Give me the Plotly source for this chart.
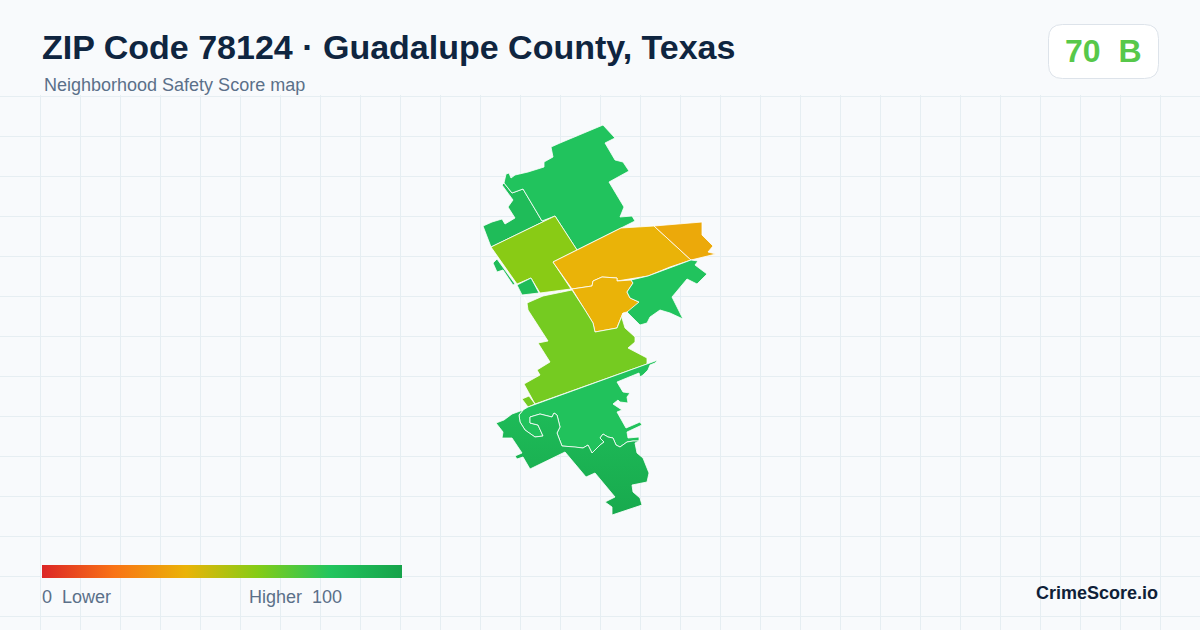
import plotly.graph_objects as go

title = "ZIP Code 78124 · Guadalupe County, Texas"
subtitle = "Neighborhood Safety Score map"
score_value = 70
score_grade = "B"

# scores per area
area_names = ["A", "B", "C", "D", "E", "F", "G", "H", "H2", "I", "K", "S1", "S2"]
area_scores = [85, 81, 59, 40, 37, 40, 81, 63, 63, 82, 92, 85, 85]
# K gets darker towards the south
k_shade_scores = [86, 96]

# area outlines on the map
a_x = [502, 504, 512, 523, 542, 555, 491, 483, 492, 502, 505, 515, 508, 513]
a_y = [185, 183, 193, 189, 221, 216, 247, 226, 222, 219, 224, 218, 207, 200]
b_x = [504, 506, 509, 511, 515, 528, 544, 544, 553, 551, 560, 603, 615, 605, 615, 623, 629, 609, 624, 620, 632, 635, 627, 621, 577, 555, 542, 523, 512]
b_y = [183, 174, 173, 178, 175, 172, 167, 162, 157, 147, 143, 125, 138, 143, 160, 162, 171, 182, 207, 217, 216, 221, 225, 228, 250, 216, 221, 189, 193]
c_x = [491, 555, 577, 553, 571, 540, 531, 517]
c_y = [247, 216, 250, 262, 289, 293, 278, 284]
d_x = [553, 621, 654, 691, 670, 648, 617, 617, 602, 593, 592, 572]
d_y = [262, 228, 226, 260, 267, 276, 281, 278, 277, 281, 286, 289]
e_x = [654, 702, 702, 713, 708, 716, 691]
e_y = [226, 222, 235, 246, 252, 254, 260]
f_x = [572, 592, 593, 602, 617, 617, 631, 633, 627, 630, 639, 633, 627, 623, 618, 617, 595, 593, 585]
f_y = [289, 286, 281, 277, 278, 281, 280, 283, 292, 298, 302, 310, 312, 313, 325, 328, 332, 323, 310]
g_x = [648, 691, 698, 695, 707, 697, 687, 672, 683, 670, 660, 650, 647, 640, 633, 627, 639, 630, 627, 633, 631]
g_y = [276, 260, 261, 265, 274, 284, 279, 297, 319, 313, 310, 317, 323, 325, 318, 312, 302, 298, 292, 283, 280]
h_x = [524, 527, 543, 572, 585, 593, 595, 617, 623, 622, 625, 635, 635, 628, 647, 647, 535, 524, 540, 537, 550, 538, 548, 528, 527]
h_y = [297, 303, 296, 290, 310, 323, 332, 328, 313, 318, 328, 337, 342, 348, 358, 364, 404, 384, 375, 370, 362, 343, 341, 310, 303]
h2_x = [522, 529, 535, 528]
h2_y = [399, 396, 404, 407]
i_x = [658, 655, 650, 648, 643, 640, 639, 617, 623, 630, 627, 628, 620, 618, 613, 622, 617, 626, 640, 642, 627, 628, 639, 639, 633, 627, 620, 616, 613, 608, 603, 600, 604, 600, 592, 588, 583, 575, 562, 557, 560, 557, 554, 552, 540, 530, 530, 538, 543, 535, 525, 520, 519, 523, 528]
i_y = [360, 363, 365, 370, 375, 377, 373, 382, 392, 393, 397, 403, 402, 400, 404, 410, 412, 428, 422, 425, 432, 438, 437, 441, 441, 442, 447, 445, 438, 437, 434, 438, 442, 445, 453, 445, 448, 447, 446, 433, 427, 415, 413, 417, 414, 417, 423, 425, 436, 437, 430, 422, 415, 410, 407]
k_x = [523, 512, 504, 496, 503, 502, 512, 522, 515, 517, 523, 530, 565, 586, 595, 615, 605, 612, 612, 642, 640, 633, 632, 647, 649, 643, 637, 635, 639, 633, 627, 620, 616, 613, 608, 603, 600, 604, 600, 592, 588, 583, 575, 562, 557, 560, 557, 554, 552, 540, 530, 530, 538, 543, 535, 525, 520, 519]
k_y = [410, 414, 420, 423, 432, 438, 438, 453, 456, 459, 457, 469, 452, 477, 473, 497, 502, 507, 515, 505, 498, 492, 485, 482, 473, 458, 453, 443, 441, 441, 442, 447, 445, 438, 437, 434, 438, 442, 445, 453, 445, 448, 447, 446, 433, 427, 415, 413, 417, 414, 417, 423, 425, 436, 437, 430, 422, 415]
s1_x = [493, 497, 515, 513, 503, 497]
s1_y = [263, 259, 284, 285, 270, 272]
s2_x = [517, 531, 539, 522, 518]
s2_y = [285, 278, 293, 295, 287]

area_xs = [a_x, b_x, c_x, d_x, e_x, f_x, g_x, h_x, h2_x, i_x, k_x, s1_x, s2_x]
area_ys = [a_y, b_y, c_y, d_y, e_y, f_y, g_y, h_y, h2_y, i_y, k_y, s1_y, s2_y]

ramp = [[0, "#dc2626"], [0.2, "#f97316"], [0.4, "#eab308"], [0.6, "#84cc16"], [0.8, "#22c55e"], [1, "#16a34a"]]


def score_color(score):
    t = score / 100
    for (p0, c0), (p1, c1) in zip(ramp, ramp[1:]):
        if t <= p1:
            f = (t - p0) / (p1 - p0)
            rgb0 = [int(c0[i:i + 2], 16) for i in (1, 3, 5)]
            rgb1 = [int(c1[i:i + 2], 16) for i in (1, 3, 5)]
            mix = [round(u + (v - u) * f) for u, v in zip(rgb0, rgb1)]
            return "rgb(%d,%d,%d)" % tuple(mix)
    return ramp[-1][1]


fig = go.Figure()

for name, score, xs, ys in zip(area_names, area_scores, area_xs, area_ys):
    fig.add_trace(go.Scatter(
        x=xs + xs[:1], y=ys + ys[:1], name=name, mode="lines",
        fill="toself", fillcolor=score_color(score),
        line=dict(color="#ffffff", width=0.8), hoverinfo="skip", showlegend=False,
    ))

# shade K from north to south
fig.update_traces(
    selector=dict(name="K"),
    fillgradient=dict(
        type="vertical",
        colorscale=[[0, score_color(k_shade_scores[0])], [1, score_color(k_shade_scores[1])]],
        start=min(k_y), stop=max(k_y),
    ),
)

# only here for the colour bar
fig.add_trace(go.Scatter(
    x=[None] * len(area_scores), y=[None] * len(area_scores), mode="markers", showlegend=False,
    marker=dict(
        color=area_scores, cmin=0, cmax=100, colorscale=ramp, showscale=True,
        colorbar=dict(
            orientation="h", xref="container", yref="container",
            x=42 / 1200, xanchor="left", y=52 / 630, yanchor="bottom",
            len=360, lenmode="pixels", thickness=13, thicknessmode="pixels",
            xpad=0, ypad=0, outlinewidth=0, ticks="", showticklabels=False,
        ),
    ),
))


def top(py):
    return (630 - py) / 535


def label(text, px, py, size, color, bold=False, anchor="left"):
    fig.add_annotation(
        text="<b>%s</b>" % text if bold else text, x=px / 1200, y=top(py), xref="paper", yref="paper",
        xanchor=anchor, yanchor="middle", showarrow=False, borderpad=0, borderwidth=0,
        font=dict(family="Liberation Sans", size=size, color=color),
    )


label(title, 42, 47, 34, "#0f2540", bold=True)
label(subtitle, 44, 85, 18, "#5b7089")
label("%d\u00a0\u00a0%s" % (score_value, score_grade), 1103, 51, 32, "#57c84a", bold=True, anchor="center")
label("0\u00a0\u00a0Lower", 42, 597, 18, "#5b7089")
label("Higher\u00a0\u00a0100", 249, 597, 18, "#5b7089")
label("CrimeScore.io", 1158, 593, 18, "#0f1f38", bold=True, anchor="right")

# score badge with round corners
bx0, bx1 = 1048.5 / 1200, 1158.5 / 1200
by0, by1 = top(78.5), top(24.5)
rx, ry = 14 / 1200, 14 / 535
badge = (
    f"M {bx0 + rx} {by1} L {bx1 - rx} {by1} Q {bx1} {by1} {bx1} {by1 - ry} "
    f"L {bx1} {by0 + ry} Q {bx1} {by0} {bx1 - rx} {by0} "
    f"L {bx0 + rx} {by0} Q {bx0} {by0} {bx0} {by0 + ry} "
    f"L {bx0} {by1 - ry} Q {bx0} {by1} {bx0 + rx} {by1} Z"
)
fig.add_shape(type="path", path=badge, xref="paper", yref="paper", layer="below",
              line=dict(color="#dde3ea", width=1), fillcolor="#ffffff")

fig.update_xaxes(range=[0, 1200], tick0=0.5, dtick=40, showgrid=True, gridcolor="#e6eef2", gridwidth=1,
                 zeroline=False, showticklabels=False, ticks="", showline=False)
fig.update_yaxes(range=[630, 95], tick0=96.5, dtick=40, showgrid=True, gridcolor="#e6eef2", gridwidth=1,
                 zeroline=False, showticklabels=False, ticks="", showline=False)
fig.update_layout(
    width=1200, height=630, margin=dict(l=0, r=0, t=95, b=0, autoexpand=False),
    paper_bgcolor="#f8fafc", plot_bgcolor="#f8fafc", showlegend=False,
)

fig.write_html("out.html", config={"displayModeBar": False},
               post_script="document.body.style.margin='0';document.body.style.overflow='hidden';")
